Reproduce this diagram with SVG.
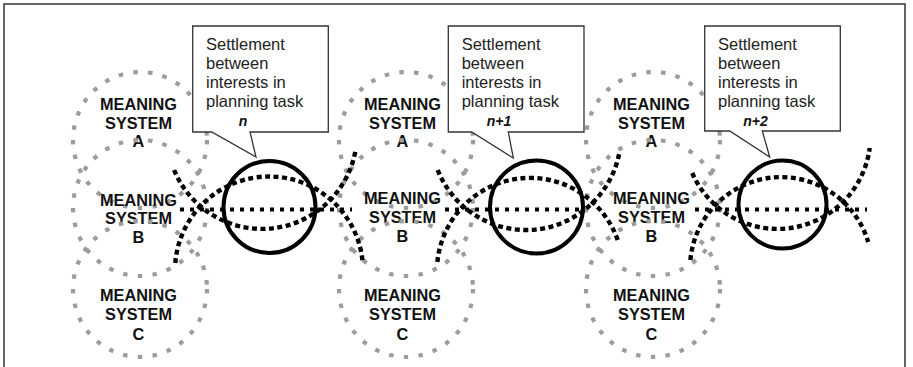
<svg xmlns="http://www.w3.org/2000/svg" width="913" height="367" viewBox="0 0 913 367">
<style>
.ms{fill:none;stroke:#9c9c9c;stroke-width:4.2;stroke-dasharray:4.5 10.3}
.lbl{font-family:"Liberation Sans",Arial,sans-serif;font-weight:bold;font-size:16.3px;fill:#111;text-anchor:middle}
.settle{fill:none;stroke:#000;stroke-width:4}
.box{fill:#fff;stroke:#333;stroke-width:1.3}
.bt{font-family:"Liberation Sans",Arial,sans-serif;font-size:16.5px;fill:#222}
.nt{font-family:"Liberation Sans",Arial,sans-serif;font-size:14px;font-weight:bold;font-style:italic;fill:#111;text-anchor:middle}
.arc{fill:none;stroke:#000;stroke-width:4.4;stroke-dasharray:5 3.5}
.hl{fill:none;stroke:#000;stroke-width:4;stroke-dasharray:4 6}
</style>
<rect width="913" height="367" fill="#fff"/>
<path d="M4,367 V4 H905 V367" fill="none" stroke="#333" stroke-width="1.5"/>

<!-- Group 1 meaning systems -->
<g id="ms1A"><ellipse class="ms" cx="140" cy="140" rx="67" ry="68"/><text class="lbl" x="138.5" y="110">MEANING</text><text class="lbl" x="138.5" y="128.5">SYSTEM</text><text class="lbl" x="138.5" y="147">A</text></g>
<g id="ms1B"><ellipse class="ms" cx="140" cy="208" rx="67" ry="68"/><text class="lbl" x="138.5" y="205.5">MEANING</text><text class="lbl" x="138.5" y="224">SYSTEM</text><text class="lbl" x="138.5" y="242.5">B</text></g>
<g id="ms1C"><ellipse class="ms" cx="140" cy="289" rx="67" ry="68"/><text class="lbl" x="138.5" y="301">MEANING</text><text class="lbl" x="138.5" y="320">SYSTEM</text><text class="lbl" x="138.5" y="340">C</text></g>

<!-- Group 2 meaning systems -->
<g id="ms2A"><ellipse class="ms" cx="406" cy="140" rx="67" ry="68"/><text class="lbl" x="402.5" y="110">MEANING</text><text class="lbl" x="402.5" y="128.5">SYSTEM</text><text class="lbl" x="402.5" y="147">A</text></g>
<g id="ms2B"><ellipse class="ms" cx="406" cy="208" rx="67" ry="68"/><text class="lbl" x="402.5" y="204">MEANING</text><text class="lbl" x="402.5" y="223">SYSTEM</text><text class="lbl" x="402.5" y="242">B</text></g>
<g id="ms2C"><ellipse class="ms" cx="406" cy="289" rx="67" ry="68"/><text class="lbl" x="402.5" y="300.5">MEANING</text><text class="lbl" x="402.5" y="320">SYSTEM</text><text class="lbl" x="402.5" y="340">C</text></g>

<!-- Group 3 meaning systems -->
<g id="ms3A"><ellipse class="ms" cx="653" cy="140" rx="67" ry="68"/><text class="lbl" x="651.5" y="110">MEANING</text><text class="lbl" x="651.5" y="128.5">SYSTEM</text><text class="lbl" x="651.5" y="147">A</text></g>
<g id="ms3B"><ellipse class="ms" cx="653" cy="208" rx="67" ry="68"/><text class="lbl" x="651.5" y="204">MEANING</text><text class="lbl" x="651.5" y="223">SYSTEM</text><text class="lbl" x="651.5" y="242">B</text></g>
<g id="ms3C"><ellipse class="ms" cx="653" cy="289" rx="67" ry="68"/><text class="lbl" x="651.5" y="300.5">MEANING</text><text class="lbl" x="651.5" y="320">SYSTEM</text><text class="lbl" x="651.5" y="340">C</text></g>

<!-- Connectors: dotted arcs and lines -->
<g id="connectors">
<path class="arc" d="M175.3,263 A94,94 0 0 1 362.7,263"/>
<path class="arc" d="M174.1,170 A95,95 0 0 0 355.6,150"/>
<path class="hl" d="M180,209.5 H352"/>
<path class="arc" d="M437.4,262 A93,93 0 0 1 617.7,240"/>
<path class="arc" d="M437.7,170 A95,95 0 0 0 619.5,152"/>
<path class="hl" d="M445,209.5 H580"/>
<path class="arc" d="M690.4,260 A91,91 0 0 1 868.2,242"/>
<path class="arc" d="M692.2,173 A93,93 0 0 0 869.7,148"/>
<path class="hl" d="M695,209.5 H867"/>
</g>

<!-- Settlement circles -->
<g id="settle1"><circle class="settle" cx="269.5" cy="207" r="46"/></g>
<g id="settle2"><circle class="settle" cx="536.5" cy="207" r="46.5"/></g>
<g id="settle3"><circle class="settle" cx="782.5" cy="204.5" r="44"/></g>

<!-- Callouts -->
<g id="callout1">
<path class="box" d="M192.7,26 H328.3 V132 H250 L256,157 L211.7,132 H192.7 Z"/>
<text class="bt" x="206" y="50">Settlement</text>
<text class="bt" x="206" y="69">between</text>
<text class="bt" x="206" y="88">interests in</text>
<text class="bt" x="206" y="107">planning task</text>
<text class="nt" x="243" y="126">n</text>
</g>
<g id="callout2">
<path class="box" d="M448.3,26 H584 V132 H508.3 L513.3,158 L471.7,132 H448.3 Z"/>
<text class="bt" x="461.7" y="50">Settlement</text>
<text class="bt" x="461.7" y="69">between</text>
<text class="bt" x="461.7" y="88">interests in</text>
<text class="bt" x="461.7" y="107">planning task</text>
<text class="nt" x="499" y="125.5">n+1</text>
</g>
<g id="callout3">
<path class="box" d="M704.7,26 H840.3 V131 H762.3 L769.7,157 L729.7,131 H704.7 Z"/>
<text class="bt" x="718" y="50">Settlement</text>
<text class="bt" x="718" y="69">between</text>
<text class="bt" x="718" y="88">interests in</text>
<text class="bt" x="718" y="107">planning task</text>
<text class="nt" x="755.5" y="125.5">n+2</text>
</g>
</svg>
